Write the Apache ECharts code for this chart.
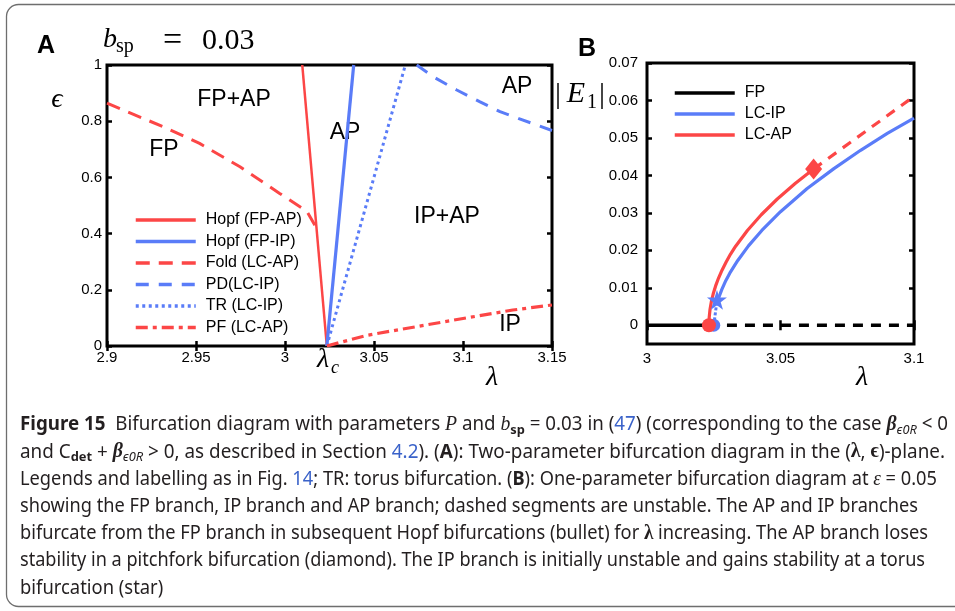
<!DOCTYPE html>
<html>
<head>
<meta charset="utf-8">
<script src="https://cdn.jsdelivr.net/npm/echarts@6/dist/echarts.min.js"></script>
<style>
html, body { margin: 0; padding: 0; background: #fff; }
#main { width: 955px; height: 611px; }
</style>
</head>
<body>
<div id="main"></div>
<script>
// ---------------- panel A : (lambda, epsilon) plane
const lambdaC = 3.0235;
const hopfApX = [3.0097, lambdaC];
const hopfApY = [1, 0];
const hopfIpX = [lambdaC, 3.0386];
const hopfIpY = [0, 1];
const foldX = [2.9, 2.9335, 2.952, 2.9747, 2.997, 3.0122, 3.0177];
const foldY = [0.864, 0.775, 0.721, 0.638, 0.543, 0.48, 0.42];
const pdX = [3.074, 3.0833, 3.0965, 3.1096, 3.1208, 3.131, 3.15];
const pdY = [1, 0.958, 0.911, 0.869, 0.834, 0.81, 0.767];
const trX = [lambdaC, 3.0676];
const trY = [0, 1];
const pfX = [lambdaC, 3.046, 3.065, 3.1, 3.128, 3.15];
const pfY = [0, 0.038, 0.059, 0.098, 0.128, 0.146];

// ---------------- panel B : |E1| against lambda at eps = 0.05
const fpStableX = [3, 3.0232];
const fpUnstableX = [3.0232, 3.1];
const ipUnstX = [3.025, 3.0262];
const ipUnstY = [0, 0.0065];
const ipX = [3.0262, 3.027, 3.028, 3.0295, 3.031, 3.034, 3.038, 3.043, 3.05, 3.06, 3.07, 3.08, 3.09, 3.1];
const ipY = [0.0065, 0.0076, 0.0095, 0.0119, 0.0139, 0.0173, 0.0212, 0.0253, 0.0303, 0.0365, 0.0418, 0.0467, 0.0512, 0.0553];
const apX = [3.0232, 3.0233, 3.0236, 3.0241, 3.0248, 3.0257, 3.0268, 3.0281, 3.0296, 3.0313, 3.0332, 3.0376, 3.0428, 3.0488, 3.0556, 3.0624];
const apY = [0, 0.0021, 0.0042, 0.0063, 0.0084, 0.0105, 0.0126, 0.0147, 0.0168, 0.019, 0.0211, 0.0253, 0.0295, 0.0337, 0.0379, 0.0417];
const apUnstX = [3.0624, 3.1];
const apUnstY = [0.0417, 0.0611];
const hopfPoints = { ap: [3.0232, 0], ip: [3.025, 0] };
const torusPoint = [3.0262, 0.0068];
const pitchforkPoint = [3.0624, 0.0417];

// tick labels
const e1Ticks = [0, 0.01, 0.02, 0.03, 0.04, 0.05, 0.06, 0.07];

const red = '#fc4646';
const blue = '#5a7cf8';
const sans = "'Liberation Sans', Arial, sans-serif";
const serif = "'Liberation Serif', 'DejaVu Serif', serif";
const capSans = "'Noto Sans', sans-serif";

function pts(xs, ys) {
    return xs.map(function (x, i) { return [x, ys[i]]; });
}
function zeros(xs) {
    return xs.map(function (x) { return [x, 0]; });
}

var chart = echarts.init(document.getElementById('main'));

// 坐标轴
function tickStyle() {
    return { show: true, inside: true, length: 5, lineStyle: { color: '#000', width: 2.5 } };
}
function xAxis(grid, min, max, pos, margin, labels) {
    return {
        type: 'value', gridIndex: grid, min: min, max: max, interval: 0.05, position: pos,
        axisLine: { show: false }, splitLine: { show: false },
        axisTick: tickStyle(),
        axisLabel: { show: labels, margin: margin, color: '#000', fontSize: 15, fontFamily: sans }
    };
}

// ---------------- caption lines (segments: style key, text)
const captionLines = [
    [['b', 'Figure 15'], ['', '  Bifurcation diagram with parameters '], ['m', 'P'], ['', ' and '], ['m', 'b'], ['sb', 'sp'], ['', ' = 0.03 in ('], ['l', '47'], ['', ') (corresponding to the case '], ['mb', 'β'], ['si', 'ϵ0R'], ['', ' < 0']],
    [['', 'and C'], ['sb', 'det'], ['', ' + '], ['mb', 'β'], ['si', 'ϵ0R'], ['', ' > 0, as described in Section '], ['l', '4.2'], ['', '). ('], ['b', 'A'], ['', '): Two-parameter bifurcation diagram in the ('], ['lb', 'λ'], ['', ', '], ['lb', 'ϵ'], ['', ')-plane.']],
    [['', 'Legends and labelling as in Fig. '], ['l', '14'], ['', '; TR: torus bifurcation. ('], ['b', 'B'], ['', '): One-parameter bifurcation diagram at '], ['m', 'ε'], ['', ' = 0.05']],
    [['', 'showing the FP branch, IP branch and AP branch; dashed segments are unstable. The AP and IP branches']],
    [['', 'bifurcate from the FP branch in subsequent Hopf bifurcations (bullet) for '], ['lb', 'λ'], ['', ' increasing. The AP branch loses']],
    [['', 'stability in a pitchfork bifurcation (diamond). The IP branch is initially unstable and gains stability at a torus']],
    [['', 'bifurcation (star)']]
];
const captionRight = [948, 945, 937, 918, 928, 925, null];
const capBase = { fontSize: 19, fontFamily: capSans, fontWeight: 'normal', fontStyle: 'normal', fill: '#231f20', lineHeight: 24 };
function capStyle(extra) {
    return Object.assign({}, capBase, extra);
}
const capRich = {
    n: capStyle({}),
    b: capStyle({ fontWeight: 'bold' }),
    l: capStyle({ fill: '#3a62c9' }),
    m: capStyle({ fontStyle: 'italic', fontFamily: serif, fontSize: 20 }),
    mb: capStyle({ fontStyle: 'italic', fontWeight: 'bold', fontFamily: serif, fontSize: 20 }),
    lb: capStyle({ fontWeight: 'bold', fontFamily: serif, fontSize: 20 }),
    sb: capStyle({ fontWeight: 'bold', fontSize: 13, verticalAlign: 'bottom' }),
    si: capStyle({ fontStyle: 'italic', fontSize: 13, verticalAlign: 'bottom' })
};
var measureCtx = document.createElement('canvas').getContext('2d');
function segWidth(key, text) {
    var st = capRich[key || 'n'];
    measureCtx.font = st.fontStyle + ' ' + st.fontWeight + ' ' + st.fontSize + 'px ' + st.fontFamily;
    return measureCtx.measureText(text).width;
}
var captionGraphics = [];
var scales = [];
captionLines.forEach(function (line, i) {
    var w = 0;
    line.forEach(function (s) { w += segWidth(s[0], s[1]); });
    scales.push(captionRight[i] ? (captionRight[i] - 20) / w : null);
});
var avgScale = scales.filter(Boolean).reduce(function (a, b) { return a + b; }, 0) / 6;
captionLines.forEach(function (line, i) {
    var text = line.map(function (s) { return '{' + (s[0] || 'n') + '|' + s[1] + '}'; }).join('');
    captionGraphics.push({
        type: 'text', x: 20, y: 425 + i * 27.2, scaleX: scales[i] || avgScale, silent: true,
        style: Object.assign({ text: text, x: 0, y: 0, verticalAlign: 'middle', align: 'left', rich: capRich }, capBase)
    });
});

function label(x, y, text, size, extra) {
    return {
        type: 'text', x: x, y: y, silent: true,
        style: Object.assign({ text: text, fontSize: size, fontFamily: sans, fill: '#000', align: 'center', verticalAlign: 'middle' }, extra || {})
    };
}

var graphics = [
    { type: 'rect', silent: true, z: -10, shape: { x: 6.5, y: 4.5, width: 990, height: 602, r: 12 }, style: { fill: 'none', stroke: '#6e6e6e', lineWidth: 1.3 } },
    label(46, 46, 'A', 25, { fontWeight: 'bold' }),
    label(587, 49, 'B', 25, { fontWeight: 'bold' }),
    // b_sp = 0.03
    label(103, 40, 'b', 28, { fontFamily: serif, fontStyle: 'italic', align: 'left' }),
    label(116, 47, 'sp', 20, { fontFamily: serif, align: 'left' }),
    label(163, 41, '=', 34, { fontFamily: serif, align: 'left' }),
    label(202, 41, '0.03', 30, { fontFamily: serif, align: 'left' }),
    label(57, 100, 'ϵ', 28, { fontFamily: serif, fontStyle: 'italic' }),
    label(323, 360, 'λ', 28, { fontFamily: serif, fontStyle: 'italic' }),
    label(335, 368, 'c', 18, { fontFamily: serif, fontStyle: 'italic' }),
    label(492, 378, 'λ', 28, { fontFamily: serif, fontStyle: 'italic' }),
    label(862, 378, 'λ', 28, { fontFamily: serif, fontStyle: 'italic' }),
    // |E1|
    label(558, 95, '|', 30, { fontFamily: serif }),
    label(576, 94, 'E', 30, { fontFamily: serif, fontStyle: 'italic' }),
    label(592, 103, '1', 20, { fontFamily: serif }),
    label(602, 95, '|', 30, { fontFamily: serif }),
    // regions
    label(234, 100, 'FP+AP', 23),
    label(164, 150, 'FP', 23),
    label(345, 133, 'AP', 23),
    label(447, 217, 'IP+AP', 23),
    label(517, 87, 'AP', 23),
    label(510, 325, 'IP', 23)
].concat(captionGraphics);

function line(name, data, color, width, type, z) {
    return {
        name: name, type: 'line', xAxisIndex: 0, yAxisIndex: 0, data: data, symbol: 'none',
        lineStyle: { color: color, width: width, type: type || 'solid' }, itemStyle: { color: color },
        z: z || 2, silent: true
    };
}
function lineB(name, data, color, width, type, z) {
    var s = line(name, data, color, width, type, z);
    s.xAxisIndex = 2; s.yAxisIndex = 2;
    return s;
}
function marker(data, color, symbol, size, z) {
    return {
        type: 'scatter', xAxisIndex: 2, yAxisIndex: 2, data: [data], symbol: symbol, symbolSize: size,
        itemStyle: { color: color, opacity: 1 }, z: z, silent: true
    };
}

var legendText = { fontSize: 16, fontFamily: sans, color: '#000', lineHeight: 18, padding: [0, 0, 0, 5] };
var legendNoSymbol = { color: 'rgba(0,0,0,0)', borderWidth: 0, opacity: 0 };
var legendLine = { width: 3.5 };
var starPath = 'path://M50,0 L61,35 L98,35 L68,57 L79,91 L50,70 L21,91 L32,57 L2,35 L39,35 Z';

var option = {
    animation: false,
    grid: [
        { left: 107, top: 65, width: 445, height: 281, show: true, borderColor: '#000', borderWidth: 3, backgroundColor: 'transparent' },
        { left: 647, top: 63, width: 267, height: 281, show: true, borderColor: '#000', borderWidth: 3, backgroundColor: 'transparent' }
    ],
    xAxis: [
        xAxis(0, 2.9, 3.15, 'bottom', 4, true),
        xAxis(0, 2.9, 3.15, 'top', 4, false),
        xAxis(1, 3, 3.1, 'bottom', 7, true),
        xAxis(1, 3, 3.1, 'top', 7, false)
    ],
    yAxis: [
        { type: 'value', gridIndex: 0, min: 0, max: 1, interval: 0.2, position: 'left', axisLine: { show: false }, splitLine: { show: false }, axisTick: tickStyle(),
          axisLabel: { margin: 5, color: '#000', fontSize: 15, fontFamily: sans } },
        { type: 'value', gridIndex: 0, min: 0, max: 1, interval: 0.2, position: 'right', axisLine: { show: false }, splitLine: { show: false }, axisTick: tickStyle(), axisLabel: { show: false } },
        { type: 'value', gridIndex: 1, min: -0.005, max: 0.07, position: 'left', axisLine: { show: false }, splitLine: { show: false },
          axisTick: Object.assign(tickStyle(), { customValues: e1Ticks }),
          axisLabel: { customValues: e1Ticks, margin: 9, color: '#000', fontSize: 15, fontFamily: sans,
                       formatter: function (v) { return v === 0 ? '0' : v.toFixed(2); } } },
        { type: 'value', gridIndex: 1, min: -0.005, max: 0.07, position: 'right', axisLine: { show: false }, splitLine: { show: false },
          axisTick: Object.assign(tickStyle(), { customValues: e1Ticks }), axisLabel: { show: false } }
    ],
    legend: [
        { left: 129, top: 206, orient: 'vertical', itemWidth: 60, itemHeight: 14, itemGap: 3.5, selectedMode: false, textStyle: legendText,
          itemStyle: legendNoSymbol, lineStyle: legendLine,
          data: ['Hopf (FP-AP)', 'Hopf (FP-IP)', 'Fold (LC-AP)', 'PD(LC-IP)', 'TR (LC-IP)', 'PF (LC-AP)'] },
        { left: 668, top: 79, orient: 'vertical', itemWidth: 60, itemHeight: 14, itemGap: 3, selectedMode: false, textStyle: legendText,
          itemStyle: legendNoSymbol, lineStyle: legendLine,
          data: ['FP', 'LC-IP', 'LC-AP'] }
    ],
    graphic: graphics,
    series: [
        line('Hopf (FP-AP)', pts(hopfApX, hopfApY), red, 2.5),
        line('Hopf (FP-IP)', pts(hopfIpX, hopfIpY), blue, 3.2),
        line('Fold (LC-AP)', pts(foldX, foldY), red, 3, [14, 9]),
        line('PD(LC-IP)', pts(pdX, pdY), blue, 3, [13, 10]),
        line('TR (LC-IP)', pts(trX, trY), blue, 3, [3, 3.5]),
        line('PF (LC-AP)', pts(pfX, pfY), red, 3.2, [12, 5, 4, 5], 3),

        lineB('FP', zeros(fpStableX), '#000', 3.5),
        lineB('FP-unstable', zeros(fpUnstableX), '#000', 3.5, [10, 8]),
        lineB('LC-IP', pts(ipX, ipY), blue, 3.2, 'solid', 3),
        lineB('LC-IP-unstable', pts(ipUnstX, ipUnstY), blue, 3, [3, 2], 3),
        lineB('LC-AP', pts(apX, apY), red, 3.2, 'solid', 4),
        lineB('LC-AP-unstable', pts(apUnstX, apUnstY), red, 3.2, [10, 8], 4),
        marker(hopfPoints.ip, blue, 'circle', 13, 5),
        marker(hopfPoints.ap, red, 'circle', 14, 6),
        marker(torusPoint, blue, starPath, 20, 6),
        marker(pitchforkPoint, red, 'diamond', [17, 21], 6)
    ]
};
chart.setOption(option);
</script>
</body>
</html>
